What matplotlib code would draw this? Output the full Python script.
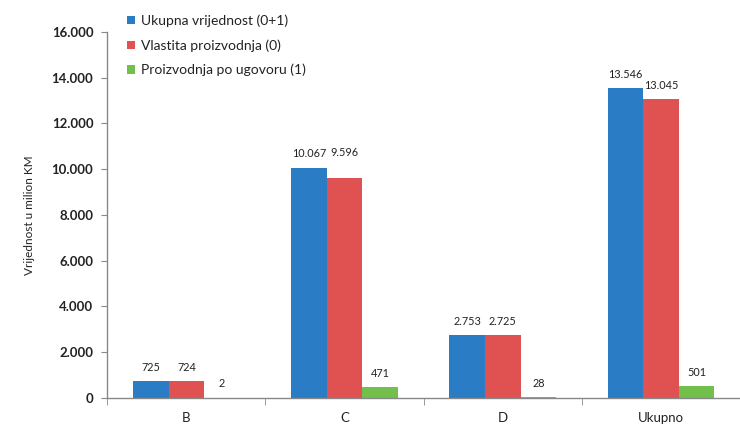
import matplotlib
matplotlib.use("Agg")
import matplotlib.pyplot as plt
import numpy as np
from matplotlib.ticker import FuncFormatter, FixedLocator

plt.rcParams['font.family'] = ['Lato', 'DejaVu Sans']

categories = ["B", "C", "D", "Ukupno"]
ukupna = [725, 10067, 2753, 13546]
vlastita = [724, 9596, 2725, 13045]
ugovor = [2, 471, 28, 501]
series_names = ["Ukupna vrijednost (0+1)", "Vlastita proizvodnja (0)", "Proizvodnja po ugovoru (1)"]
colors = ["#2a7dc4", "#e05252", "#72bf4c"]
y_ticks = [0, 2000, 4000, 6000, 8000, 10000, 12000, 14000, 16000]

def fmt_thousands(v):
    return f"{int(round(v)):,}".replace(",", ".")

fig = plt.figure(figsize=(7.4, 4.25), dpi=100)
ax = fig.add_axes([0.145, 0.064, 0.855, 0.861])

x = np.arange(len(categories))
w = 0.225
series = [ukupna, vlastita, ugovor]
for i, (vals, name, col) in enumerate(zip(series, series_names, colors)):
    pos = x + (i - 1) * w
    bars = ax.bar(pos, vals, width=w, color=col, label=name, zorder=2)
    for j, (b, v) in enumerate(zip(bars, vals)):
        off = 6
        if i == 1 and categories[j] == "C":
            off = 15
        ax.annotate(fmt_thousands(v), (b.get_x() + b.get_width() / 2, v),
                    xytext=(0, off), textcoords="offset points",
                    ha="center", va="bottom", fontsize=7.8, color="#222222")

ax.set_xlim(-0.5, len(categories) - 0.5)
ax.set_ylim(0, 16000)
ax.yaxis.set_major_locator(FixedLocator(y_ticks))
ax.yaxis.set_major_formatter(FuncFormatter(lambda v, p: fmt_thousands(v)))
ax.set_xticks(x)
ax.set_xticklabels(categories)
ax.xaxis.set_minor_locator(FixedLocator(np.arange(-0.5, len(categories), 1.0)))
ax.tick_params(axis="x", which="major", length=0, pad=10, labelsize=9.5, colors="#222222")
ax.tick_params(axis="x", which="minor", length=5, color="#888888", direction="out")
ax.tick_params(axis="y", length=4, color="#888888", labelsize=9.5, labelcolor="#222222", pad=6)
for lbl in ax.get_yticklabels():
    lbl.set_fontweight("bold")

for s in ["top", "right"]:
    ax.spines[s].set_visible(False)
for s in ["left", "bottom"]:
    ax.spines[s].set_color("#888888")
    ax.spines[s].set_linewidth(1.0)

ax.set_ylabel("Vrijednost u milion KM", fontsize=8.5, color="#222222", labelpad=12)

leg = ax.legend(loc="upper left", bbox_to_anchor=(0.012, 1.082), frameon=False,
                fontsize=10, handlelength=0.55, handleheight=0.55, handletextpad=0.45,
                labelspacing=0.88)
for t in leg.get_texts():
    t.set_color("#222222")

fig.savefig("out.png", dpi=100)
